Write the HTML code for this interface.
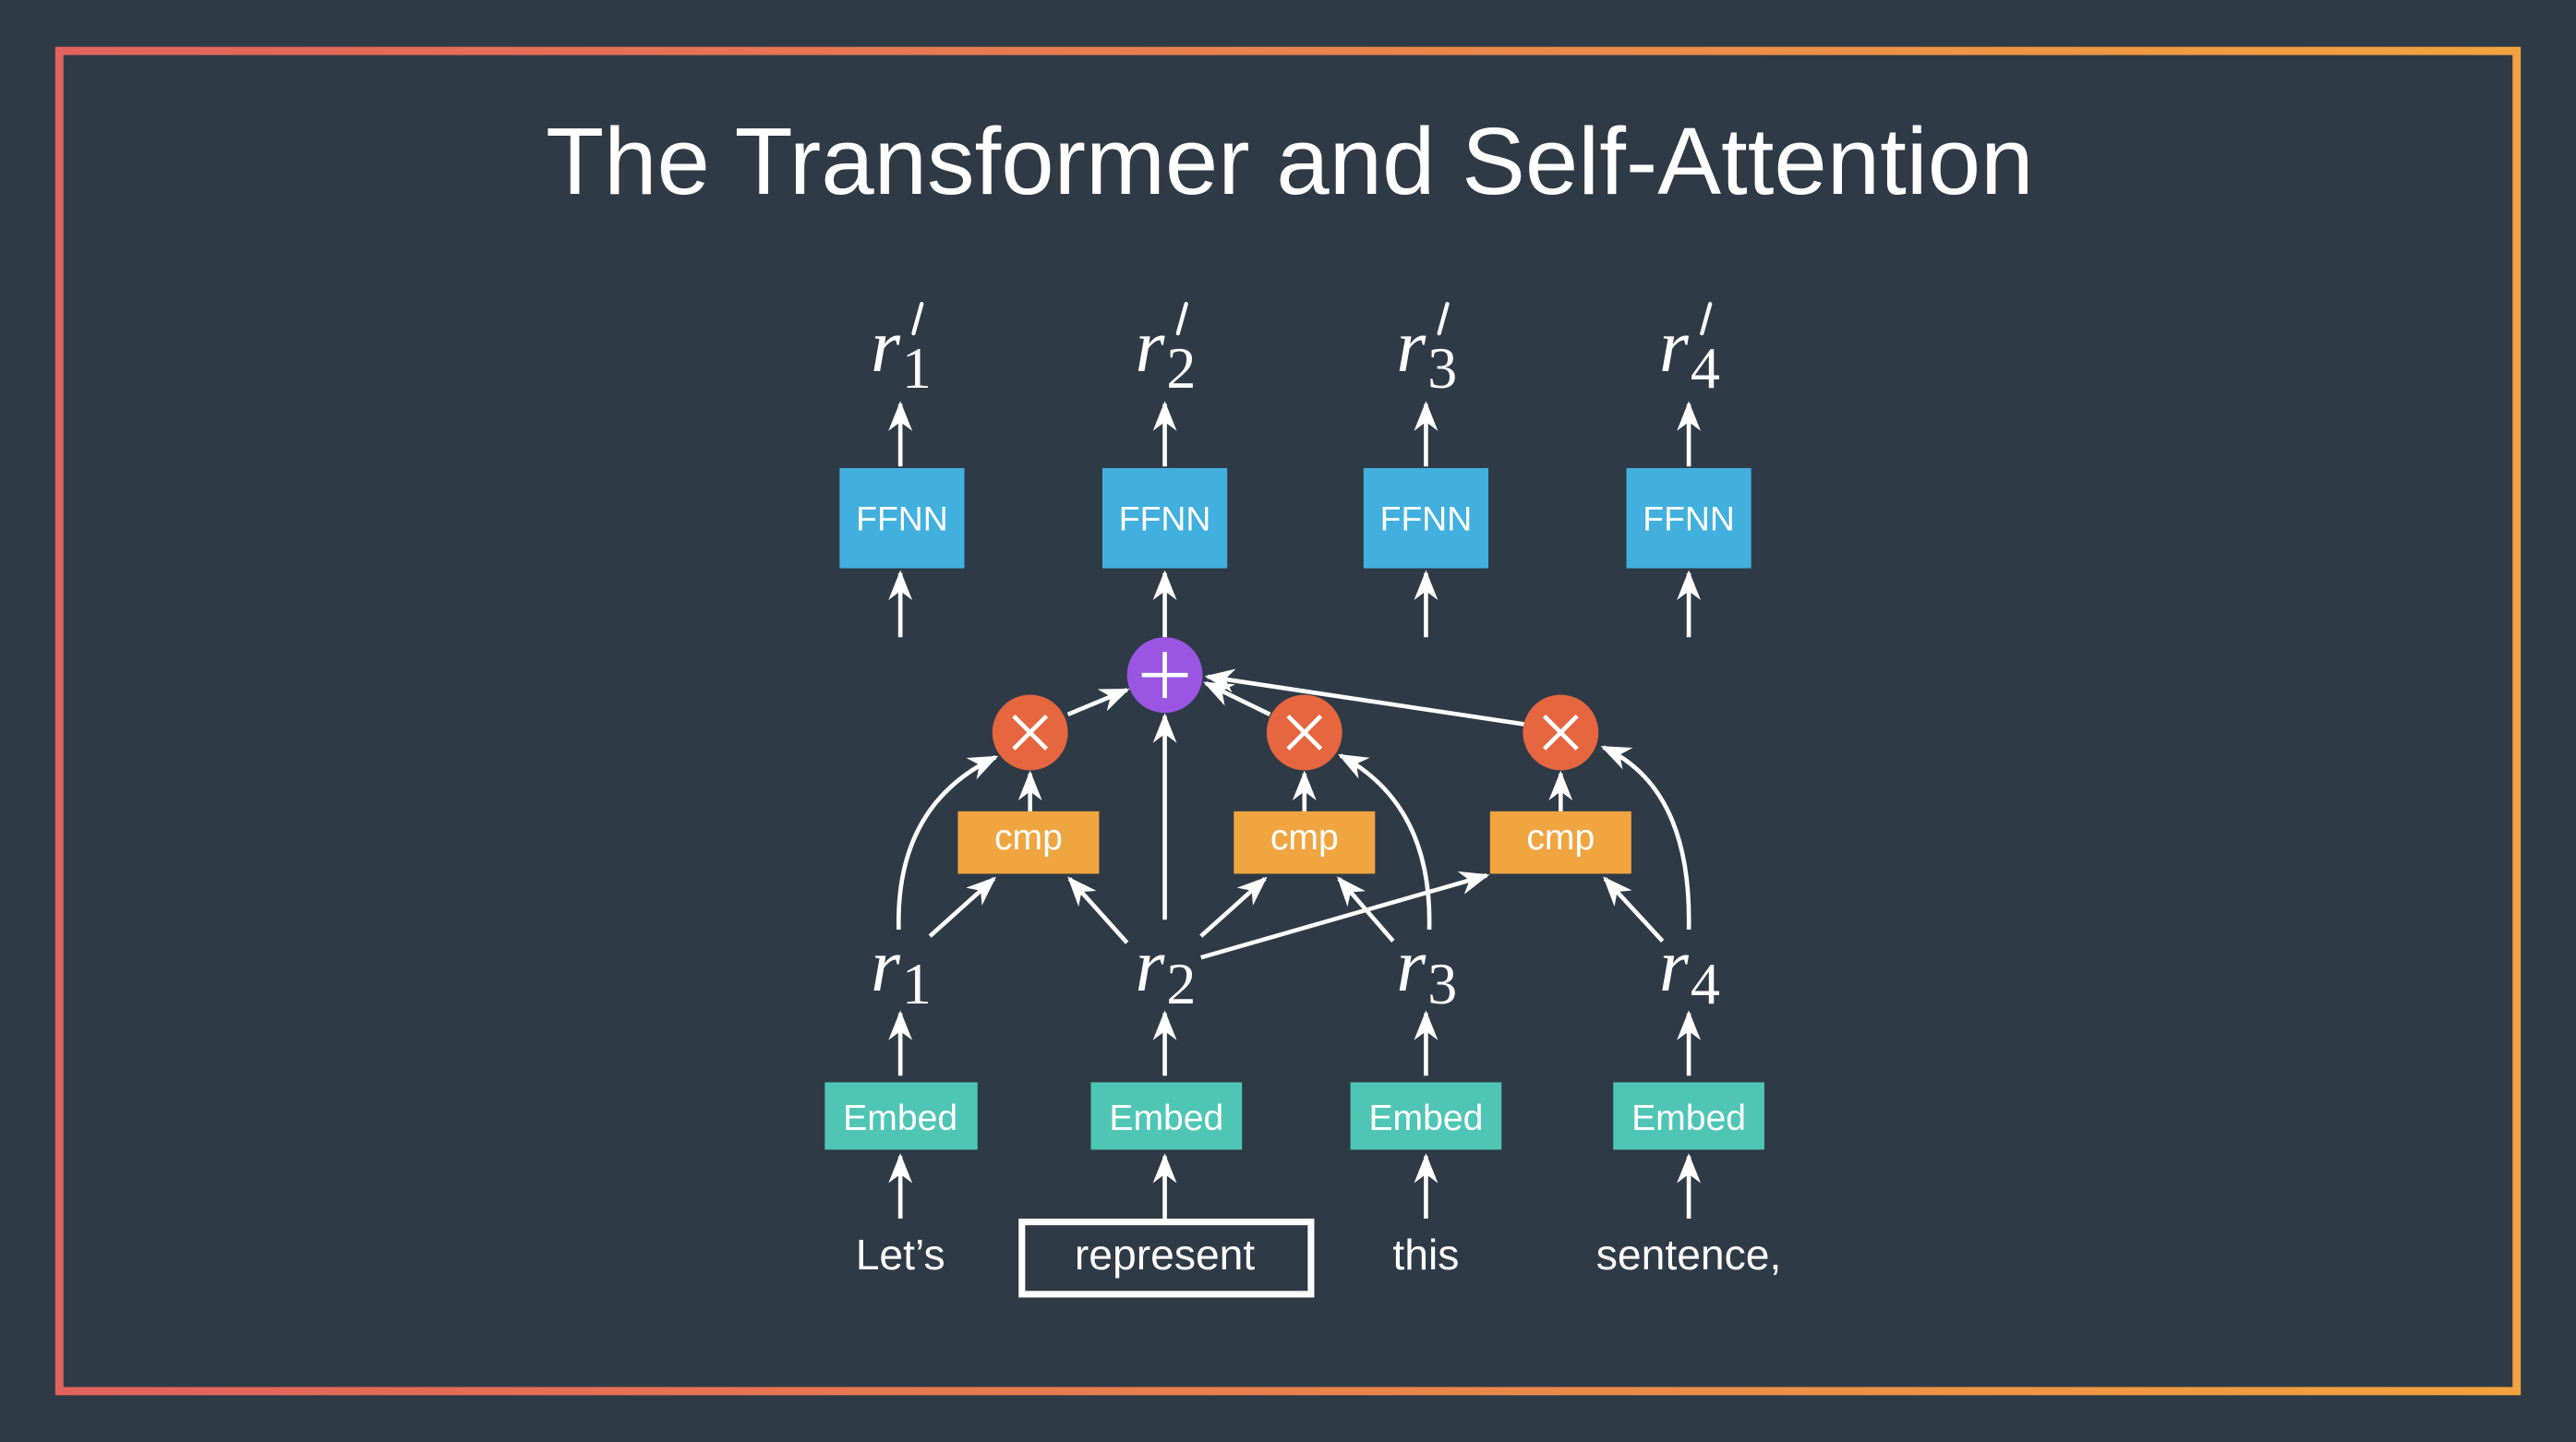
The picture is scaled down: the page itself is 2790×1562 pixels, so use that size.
<!DOCTYPE html>
<html><head><meta charset="utf-8"><style>
html,body{margin:0;padding:0;background:#2f3a47;}
svg{display:block}
.t{font-family:"Liberation Sans",sans-serif;fill:#fff;}
.m{font-family:"Liberation Serif",serif;fill:#fff;}
</style></head><body>
<svg width="2790" height="1562" viewBox="0 0 1568 878" xmlns="http://www.w3.org/2000/svg">
<defs>
<linearGradient id="g" x1="0" x2="1" y1="0" y2="0">
<stop offset="0" stop-color="#e2635c"/><stop offset="1" stop-color="#f2a23e"/></linearGradient>
<marker id="a" viewBox="0 0 20 16" refX="18" refY="8" markerWidth="7" markerHeight="6" markerUnits="strokeWidth" orient="auto">
<path d="M0,0 L20,8 L0,16 L6,8 Z" fill="#fff"/></marker>
</defs>
<rect width="1568" height="878" fill="#2f3a47"/>
<rect x="36" y="31" width="1496" height="816" fill="none" stroke="url(#g)" stroke-width="5"/>
<text x="785" y="118" text-anchor="middle" class="t" font-size="58" font-weight="300">The Transformer and Self-Attention</text>

<g stroke="#fff" stroke-width="2.6" fill="none" marker-end="url(#a)">
<!-- top arrows -->
<line x1="548" y1="284" x2="548" y2="246"/><line x1="709" y1="284" x2="709" y2="246"/>
<line x1="868" y1="284" x2="868" y2="246"/><line x1="1028" y1="284" x2="1028" y2="246"/>
<line x1="548" y1="388" x2="548" y2="349"/><line x1="709" y1="388" x2="709" y2="349"/>
<line x1="868" y1="388" x2="868" y2="349"/><line x1="1028" y1="388" x2="1028" y2="349"/>
<!-- to plus -->
<line x1="650" y1="435" x2="686" y2="420"/>
<line x1="773" y1="435" x2="734" y2="416"/>
<line x1="928" y1="441" x2="735" y2="412"/>
<line x1="709" y1="560" x2="709" y2="436"/>
<!-- cmp to times -->
<line x1="627" y1="494" x2="627" y2="471"/><line x1="794" y1="494" x2="794" y2="471"/><line x1="950" y1="494" x2="950" y2="471"/>
<!-- curves -->
<path d="M547,566 Q545,490 606,461"/>
<path d="M870,566 Q872,490 816,460"/>
<path d="M1028,566 Q1030,480 976,455"/>
<!-- r to cmp -->
<line x1="566" y1="570" x2="605" y2="535"/>
<line x1="686" y1="574" x2="651" y2="535"/>
<line x1="731" y1="570" x2="770" y2="535"/>
<line x1="848" y1="573" x2="815" y2="535"/>
<line x1="731" y1="583" x2="905" y2="533"/>
<line x1="1012" y1="573" x2="977" y2="535"/>
<!-- bottom arrows -->
<line x1="548" y1="655" x2="548" y2="617"/><line x1="709" y1="655" x2="709" y2="617"/>
<line x1="868" y1="655" x2="868" y2="617"/><line x1="1028" y1="655" x2="1028" y2="617"/>
<line x1="548" y1="742" x2="548" y2="704"/><line x1="709" y1="742" x2="709" y2="704"/>
<line x1="868" y1="742" x2="868" y2="704"/><line x1="1028" y1="742" x2="1028" y2="704"/>
</g>

<!-- r' labels -->
<g class="m" font-style="italic">
<text x="530" y="226" font-size="46">r</text><text x="530" y="226" font-size="46">r</text>
<text x="691" y="226" font-size="46">r</text><text x="850" y="226" font-size="46">r</text><text x="1010" y="226" font-size="46">r</text>
<text x="530" y="603" font-size="46">r</text><text x="691" y="603" font-size="46">r</text>
<text x="850" y="603" font-size="46">r</text><text x="1010" y="603" font-size="46">r</text>
</g>
<g class="m" font-size="36">
<text x="549" y="236">1</text><text x="710" y="236">2</text><text x="869" y="236">3</text><text x="1029" y="236">4</text>
<text x="549" y="611">1</text><text x="710" y="611">2</text><text x="869" y="611">3</text><text x="1029" y="611">4</text>
</g>
<g stroke="#fff" stroke-width="2.4" stroke-linecap="round">
<line x1="561" y1="185" x2="556" y2="203"/><line x1="722" y1="185" x2="717" y2="203"/>
<line x1="881" y1="185" x2="876" y2="203"/><line x1="1041" y1="185" x2="1036" y2="203"/>
</g>

<!-- FFNN -->
<g fill="#41b0de">
<rect x="511" y="285" width="76" height="61"/><rect x="671" y="285" width="76" height="61"/>
<rect x="830" y="285" width="76" height="61"/><rect x="990" y="285" width="76" height="61"/>
</g>
<g class="t" font-size="21" text-anchor="middle">
<text x="549" y="323">FFNN</text><text x="709" y="323">FFNN</text><text x="868" y="323">FFNN</text><text x="1028" y="323">FFNN</text>
</g>

<!-- plus -->
<circle cx="709" cy="411" r="23" fill="#9a56e2"/>
<g stroke="#fff" stroke-width="2.6"><line x1="695" y1="411" x2="723" y2="411"/><line x1="709" y1="397" x2="709" y2="425"/></g>
<!-- times -->
<g fill="#e5663f"><circle cx="627" cy="446" r="23"/><circle cx="794" cy="446" r="23"/><circle cx="950" cy="446" r="23"/></g>
<g stroke="#fff" stroke-width="2.6">
<path d="M617,436 L637,456 M637,436 L617,456"/>
<path d="M784,436 L804,456 M804,436 L784,456"/>
<path d="M940,436 L960,456 M960,436 L940,456"/>
</g>
<!-- cmp -->
<g fill="#f0a540"><rect x="583" y="494" width="86" height="38"/><rect x="751" y="494" width="86" height="38"/><rect x="907" y="494" width="86" height="38"/></g>
<g class="t" font-size="22" text-anchor="middle">
<text x="626" y="517">cmp</text><text x="794" y="517">cmp</text><text x="950" y="517">cmp</text>
</g>
<!-- Embed -->
<g fill="#4fc6b5">
<rect x="502" y="659" width="93" height="41"/><rect x="664" y="659" width="92" height="41"/>
<rect x="822" y="659" width="92" height="41"/><rect x="982" y="659" width="92" height="41"/>
</g>
<g class="t" font-size="22" text-anchor="middle">
<text x="548" y="688">Embed</text><text x="710" y="688">Embed</text><text x="868" y="688">Embed</text><text x="1028" y="688">Embed</text>
</g>
<!-- words -->
<rect x="622" y="744" width="176" height="44" fill="none" stroke="#fff" stroke-width="4"/>
<g class="t" font-size="26" text-anchor="middle">
<text x="548" y="773">Let’s</text><text x="709" y="773">represent</text><text x="868" y="773">this</text><text x="1028" y="773">sentence,</text>
</g>
</svg>
</body></html>
